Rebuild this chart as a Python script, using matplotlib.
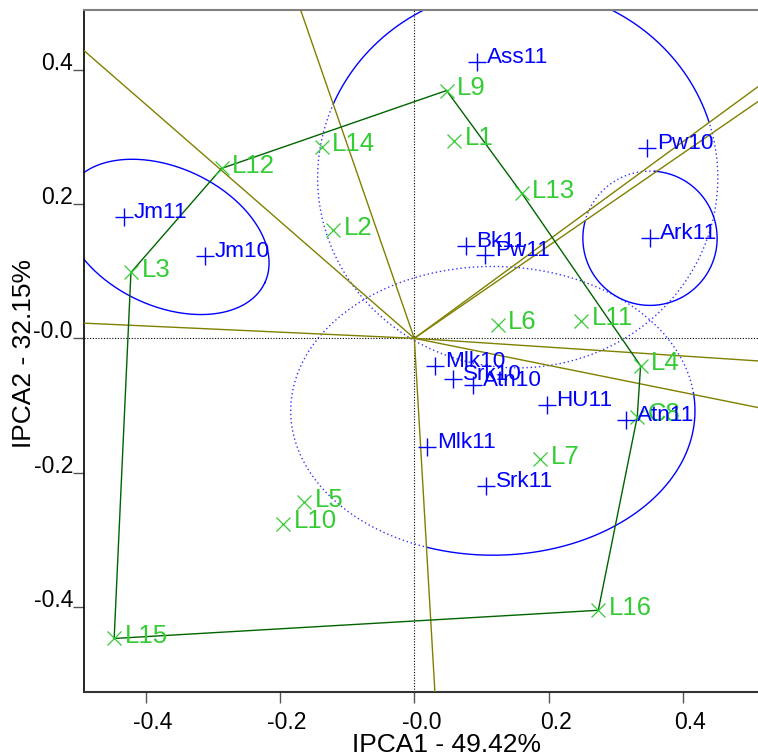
import numpy as np
import matplotlib
matplotlib.use("Agg")
import matplotlib.pyplot as plt
from matplotlib.transforms import ScaledTranslation

plt.rcParams["font.family"] = ["Liberation Sans", "DejaVu Sans"]

# genotypes (blue +)
gen_names = ["Ass11", "Pw10", "Ark11", "Bk11", "Pw11", "Jm11", "Jm10", "Mlk10",
             "Srk10", "Atn10", "HU11", "Atn11", "Mlk11", "Srk11"]
gen_x = [0.093, 0.346, 0.351, 0.077, 0.105, -0.433, -0.312, 0.031,
         0.057, 0.087, 0.197, 0.316, 0.019, 0.107]
gen_y = [0.412, 0.283, 0.150, 0.138, 0.124, 0.180, 0.122, -0.041,
         -0.061, -0.070, -0.100, -0.121, -0.162, -0.220]

# environments (green x)
env_names = ["L1", "L2", "L3", "L4", "L5", "L6", "L7", "C8", "L9", "L10",
             "L11", "L12", "L13", "L14", "L15", "L16"]
env_x = [0.059, -0.121, -0.422, 0.337, -0.164, 0.124, 0.187, 0.332, 0.048, -0.195,
         0.248, -0.287, 0.160, -0.138, -0.447, 0.274]
env_y = [0.294, 0.161, 0.098, -0.041, -0.244, 0.020, -0.180, -0.117, 0.369, -0.276,
         0.026, 0.253, 0.216, 0.285, -0.447, -0.405]

# polygon vertices (which-won-where hull)
hull = ["L9", "L13", "L4", "C8", "L16", "L15", "L3", "L12"]

# ellipses: center x, center y, width, height, angle, solid arc (deg)
ell_cx = [0.154, 0.117, 0.351, -0.369]
ell_cy = [0.239, -0.108, 0.149, 0.151]
ell_w = [0.596, 0.602, 0.200, 0.323]
ell_h = [0.566, 0.430, 0.200, 0.206]
ell_ang = [0, 0, 0, -25]
ell_solid = [(17, 157), (-109, 7), (165, 446), (0, 360)]

x_ticks = [-0.4, -0.2, 0.0, 0.2, 0.4]
x_labels = ["-0.4", "-0.2", "-0.0", "0.2", "0.4"]
y_ticks = [-0.4, -0.2, 0.0, 0.2, 0.4]
y_labels = ["-0.4", "-0.2", "-0.0", "0.2", "0.4"]

BLUE = "#0000ff"
GREEN = "#33cc33"
DKGREEN = "#006400"
OLIVE = "#808000"

fig = plt.figure(figsize=(7.58, 7.55), dpi=100)
ax = fig.add_axes([84 / 758, 63 / 755, 724 / 758, 682 / 755])
ax.set_xlim(-0.4919, 0.5863)
ax.set_ylim(-0.5267, 0.4889)

ax.axhline(0, color="black", lw=0.8, ls=(0, (1, 1.5)), zorder=1)
ax.axvline(0, color="black", lw=0.8, ls=(0, (1, 1.5)), zorder=1)


def ellipse_pts(cx, cy, w, h, ang, t0, t1):
    t = np.deg2rad(np.linspace(t0, t1, 300))
    a = np.deg2rad(ang)
    ex = w / 2 * np.cos(t)
    ey = h / 2 * np.sin(t)
    return (cx + ex * np.cos(a) - ey * np.sin(a),
            cy + ex * np.sin(a) + ey * np.cos(a))


for cx, cy, w, h, ang, (s0, s1) in zip(ell_cx, ell_cy, ell_w, ell_h, ell_ang, ell_solid):
    px, py = ellipse_pts(cx, cy, w, h, ang, s0, s1)
    ax.plot(px, py, color=BLUE, lw=1.0, zorder=2)
    if s1 - s0 < 360:
        px, py = ellipse_pts(cx, cy, w, h, ang, s1, s0 + 360)
        ax.plot(px, py, color=BLUE, lw=1.0, ls=(0, (1, 2)), alpha=0.8, zorder=2)

# rays from origin perpendicular to hull sides
env_pos = {n: (x, y) for n, x, y in zip(env_names, env_x, env_y)}
hx = [env_pos[n][0] for n in hull]
hy = [env_pos[n][1] for n in hull]
for i in range(len(hull)):
    p = np.array([hx[i], hy[i]])
    q = np.array([hx[(i + 1) % len(hull)], hy[(i + 1) % len(hull)]])
    d = q - p
    nrm = np.array([d[1], -d[0]])
    if nrm @ p < 0:
        nrm = -nrm
    nrm = nrm / np.hypot(*nrm) * 3
    ax.plot([0, nrm[0]], [0, nrm[1]], color=OLIVE, lw=1.0, zorder=3)

ax.plot(hx + hx[:1], hy + hy[:1], color=DKGREEN, lw=1.0, zorder=4)

ax.plot(env_x, env_y, ls="none", marker="x", ms=10, mew=0.9, color=GREEN, zorder=5)
ax.plot(gen_x, gen_y, ls="none", marker="+", ms=12.5, mew=1.0, color=BLUE, zorder=6)

for n, x, y in zip(env_names, env_x, env_y):
    ax.annotate(n, (x, y), xytext=(7.6, -3.2), textcoords="offset points",
                color=GREEN, fontsize=18.5, va="baseline", ha="left", zorder=7)
for n, x, y in zip(gen_names, gen_x, gen_y):
    ax.annotate(n, (x, y), xytext=(7.2, -0.7), textcoords="offset points",
                color=BLUE, fontsize=16.2, va="baseline", ha="left", zorder=8)

ax.set_xticks(x_ticks)
ax.set_xticklabels(x_labels)
ax.set_yticks(y_ticks)
ax.set_yticklabels(y_labels)
ax.tick_params(axis="both", direction="out", length=8, width=1.0, color="#555555",
               labelsize=16.5, labelcolor="black")
ax.tick_params(axis="x", pad=6)
ax.tick_params(axis="y", pad=0)
for lab in ax.get_yticklabels():
    lab.set_va("baseline")
shift = ScaledTranslation(7 / 100, 0, fig.dpi_scale_trans)
for lab in ax.get_xticklabels():
    lab.set_transform(lab.get_transform() + shift)

ax.spines["left"].set_color("black")
ax.spines["left"].set_linewidth(1.2)
ax.spines["bottom"].set_color("#333333")
ax.spines["bottom"].set_linewidth(1.5)
ax.spines["top"].set_color("#808080")
ax.spines["top"].set_linewidth(1.5)
ax.spines["right"].set_visible(False)

fig.text(446 / 758, 1 - 751.5 / 755, "IPCA1 - 49.42%", fontsize=19,
         ha="center", va="baseline")
fig.text(31.5 / 758, 1 - 354 / 755, "IPCA2 - 32.15%", fontsize=19, rotation=90,
         rotation_mode="anchor", ha="center", va="baseline")

fig.savefig("out.png", dpi=100)
